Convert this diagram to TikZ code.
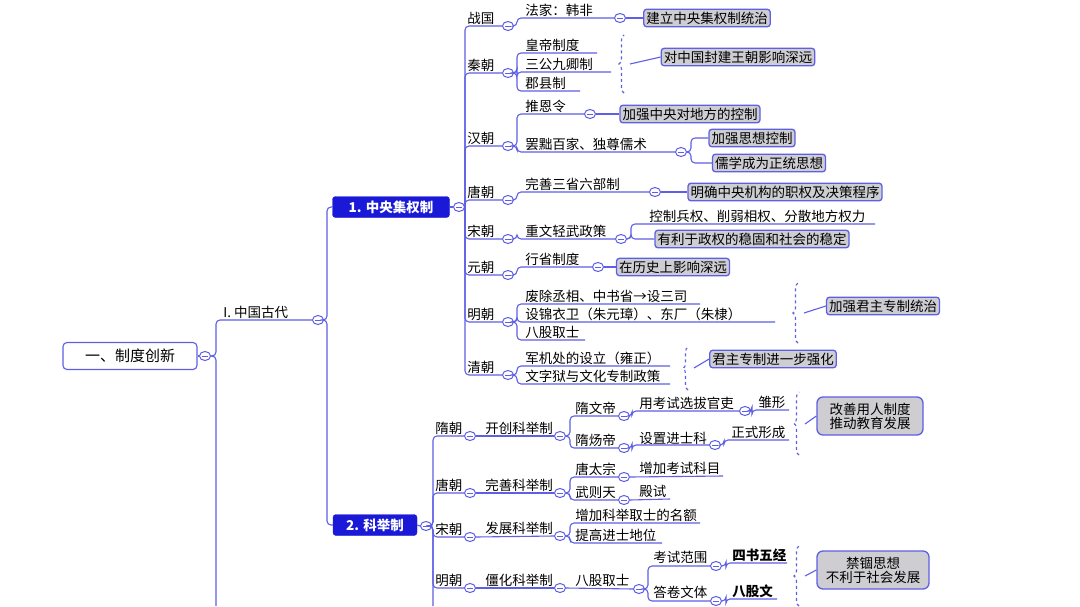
\documentclass[tikz,border=0pt]{standalone}
\usepackage{fontspec}
\setmainfont{Noto Sans CJK SC}
\usetikzlibrary{shapes.geometric,decorations.pathreplacing}
\definecolor{lnc}{RGB}{95,95,230}
\definecolor{dkb}{RGB}{25,25,215}
\definecolor{gbox}{RGB}{205,205,210}
\tikzset{
  ln/.style={draw=lnc,line width=1.1pt,rounded corners=4pt},
  cc/.style={ellipse,draw=lnc,fill=white,line width=1pt,minimum width=11pt,minimum height=9pt,inner sep=0pt,
    path picture={\draw[lnc,line width=0.9pt] ([xshift=-2.8pt]path picture bounding box.center)--([xshift=2.8pt]path picture bounding box.center);}},
  lab/.style={anchor=south west,inner sep=1.2pt,font=\fontsize{13.5}{14}\selectfont},
  gb/.style={draw=lnc,fill=gbox,line width=1.3pt,rounded corners=3pt,inner sep=2.5pt,font=\fontsize{13.5}{14}\selectfont},
  bb/.style={draw=dkb,fill=dkb,text=white,rounded corners=3pt,inner sep=3pt,font=\bfseries\fontsize{13.5}{14}\selectfont,minimum height=21pt},
  brc/.style={draw=lnc,line width=1.1pt,dashed,decorate,decoration={brace,amplitude=5pt}}
}
\newcommand\ch[3]{\draw[ln] (#1.east) -- (#1.east -| #2,0) |- (#3);}
\newcommand\cc[2]{\node[cc] (#1) at (#2) {};}
\newcommand\lb[4]{\node[lab] (#1) at (#2,#3) {#4};}
\begin{document}
\begin{tikzpicture}[x=1pt,y=-1pt]
\useasboundingbox (0,0) rectangle (1080,606);
\fill[white] (0,0) rectangle (1080,606);
% root
\node[draw=lnc,line width=1.1pt,rounded corners=4pt,fill=white,minimum width=134pt,minimum height=27pt,font=\fontsize{15}{16}\selectfont] (root) at (130,356) {一、制度创新};
\cc{c0}{205,356}
\draw[ln] (root.east) -- (c0.west);
\coordinate (bot) at (216,606);
\cc{cI}{318,320}
\draw[ln] (c0.east) -- (216,356) -- (bot);
\ch{c0}{216}{cI.west}
\lb{tI}{222}{320}{I. 中国古代}
% level 2
\node[bb,minimum width=117pt] (b1) at (391,207) {1. 中央集权制};
\node[bb,minimum width=84pt] (b2) at (375,525) {2. 科举制};
\ch{cI}{327}{b1.west}
\ch{cI}{327}{b2.west}
\cc{c1}{459,207}
\cc{c2}{426,526}
\draw[ln] (b1.east) -- (c1.west);
\draw[ln] (b2.east) -- (c2.west);
% dynasties central
\foreach \n/\y/\t in {dZG/26/战国,dQC/73/秦朝,dHC/146/汉朝,dTC/200/唐朝,dSC/239/宋朝,dYC/275/元朝,dMC/322/明朝,dQG/375/清朝}{
  \cc{\n}{508,\y}
  \ch{c1}{465}{\n.west}
  \node[lab] at (466,\y) {\t};
}
% ZG
\cc{cFJ}{620,18}
\ch{dZG}{517}{cFJ.west}
\lb{tFJ}{524}{18}{法家：韩非}
\node[gb] (bZG) at (707,18) {建立中央集权制统治};
\draw[ln] (cFJ.east) -- (bZG.west);
% QC
\coordinate (q1) at (597,53); \coordinate (q2) at (611,72); \coordinate (q3) at (580,91);
\ch{dQC}{517}{q1} \ch{dQC}{517}{q2} \ch{dQC}{517}{q3}
\lb{tq1}{524}{53}{皇帝制度} \lb{tq2}{524}{72}{三公九卿制} \lb{tq3}{524}{91}{郡县制}
\draw[brc] (624,93) -- (624,35);
\node[gb] (bQC) at (738,57) {对中国封建王朝影响深远};
\draw[ln] (630,64) -- (bQC.west);
% HC
\cc{cTE}{590,114}
\ch{dHC}{517}{cTE.west}
\lb{tTE}{524}{114}{推恩令}
\node[gb] (bTE) at (690,114) {加强中央对地方的控制};
\draw[ln] (cTE.east) -- (bTE.west);
\cc{cBC}{681,152}
\ch{dHC}{517}{cBC.west}
\lb{tBC}{524}{152}{罢黜百家、独尊儒术}
\node[gb] (bSX) at (752,138) {加强思想控制};
\node[gb] (bRX) at (769,163) {儒学成为正统思想};
\ch{cBC}{691}{bSX.west}
\ch{cBC}{691}{bRX.west}
% TC
\cc{cSS}{655,192}
\ch{dTC}{517}{cSS.west}
\lb{tSS}{524}{192}{完善三省六部制}
\node[gb] (bSS) at (785,192) {明确中央机构的职权及决策程序};
\draw[ln] (cSS.east) -- (bSS.west);
% SC
\cc{cZW}{621,239}
\ch{dSC}{517}{cZW.west}
\lb{tZW}{524}{239}{重文轻武政策}
\coordinate (kz) at (875,224);
\ch{cZW}{631}{kz}
\lb{tKZ}{648}{224}{控制兵权、削弱相权、分散地方权力}
\node[gb] (bZW) at (752,239) {有利于政权的稳固和社会的稳定};
\ch{cZW}{631}{bZW.west}
% YC
\cc{cXS}{598,267}
\ch{dYC}{517}{cXS.west}
\lb{tXS}{524}{267}{行省制度}
\node[gb] (bXS) at (673,267) {在历史上影响深远};
\draw[ln] (cXS.east) -- (bXS.west);
% MC
\coordinate (m1) at (700,304); \coordinate (m2) at (775,322); \coordinate (m3) at (585,340);
\ch{dMC}{517}{m1} \ch{dMC}{517}{m2} \ch{dMC}{517}{m3}
\lb{tm1}{524}{304}{废除丞相、中书省→设三司}
\lb{tm2}{524}{322}{设锦衣卫（朱元璋）、东厂（朱棣）}
\lb{tm3}{524}{340}{八股取士}
\draw[brc] (798,343) -- (798,283);
\node[gb] (bMC) at (883,306) {加强君主专制统治};
\draw[ln] (804,313) -- (bMC.west);
% QG
\coordinate (g1) at (670,366); \coordinate (g2) at (670,384);
\ch{dQG}{517}{g1} \ch{dQG}{517}{g2}
\lb{tg1}{524}{366}{军机处的设立（雍正）}
\lb{tg2}{524}{384}{文字狱与文化专制政策}
\draw[brc] (688,390) -- (688,347);
\node[gb] (bQG) at (773,359) {君主专制进一步强化};
\draw[ln] (694,368) -- (bQG.west);
% keju dynasties
\coordinate (kb) at (433,606);
\draw[ln] (c2.east) -- (433,526) -- (kb);
\foreach \n/\y/\t in {kSui/436/隋朝,kTang/493/唐朝,kSong/537/宋朝,kMing/588/明朝}{
  \cc{\n}{470,\y}
  \ch{c2}{433}{\n.west}
  \node[lab] at (434,\y) {\t};
}
\foreach \p/\n/\y/\t in {kSui/kA/436/开创科举制,kTang/kB/493/完善科举制,kSong/kC/536/发展科举制,kMing/kD/588/僵化科举制}{
  \cc{\n}{560,\y}
  \draw[ln] (\p.east) -- (\n.west);
  \node[lab] at (484,\y) {\t};
}
% Sui
\cc{kWD}{624,416} \cc{kYD}{624,448}
\ch{kA}{570}{kWD.west} \ch{kA}{570}{kYD.west}
\lb{tWD}{574}{416}{隋文帝} \lb{tYD}{574}{448}{隋炀帝}
\cc{kKS}{745,411}
\ch{kWD}{632}{kKS.west}
\lb{tKS}{638}{411}{用考试选拔官吏}
\coordinate (cx) at (789,410);
\ch{kKS}{752}{cx}
\lb{tCX}{757}{410}{雏形}
\cc{kJS}{715,445}
\ch{kYD}{632}{kJS.west}
\lb{tJS}{638}{446}{设置进士科}
\coordinate (zs) at (789,440);
\ch{kJS}{724}{zs}
\lb{tZS}{730}{440}{正式形成}
\draw[brc] (799,455) -- (799,392);
\node[gb,align=center,minimum width=106pt,minimum height=38pt,rounded corners=6pt] (bSui) at (870,416) {改善用人制度\\推动教育发展};
\draw[ln] (805,424) -- (bSui.west);
% Tang
\cc{kTZ}{624,477} \cc{kWZ}{624,500}
\ch{kB}{570}{kTZ.west} \ch{kB}{570}{kWZ.west}
\lb{tTZ}{574}{477}{唐太宗} \lb{tWZ}{574}{500}{武则天}
\coordinate (tz) at (723,476); \coordinate (wz) at (670,499);
\draw[ln] (kTZ.east) -- (tz); \draw[ln] (kWZ.east) -- (wz);
\lb{tTZ2}{638}{476}{增加考试科目} \lb{tWZ2}{638}{499}{殿试}
% Song
\coordinate (s1) at (700,523); \coordinate (s2) at (662,543);
\ch{kC}{570}{s1} \ch{kC}{570}{s2}
\lb{ts1}{574}{523}{增加科举取士的名额} \lb{ts2}{574}{543}{提高进士地位}
% Ming
\cc{kBG}{639,589}
\draw[ln] (kD.east) -- (kBG.west);
\lb{tBG}{574}{588}{八股取士}
\cc{kKW}{716,566} \cc{kDW}{716,601}
\ch{kBG}{648}{kKW.west} \ch{kBG}{648}{kDW.west}
\lb{tKW}{652}{565}{考试范围} \lb{tDW}{652}{600}{答卷文体}
\coordinate (sw) at (787,563); \coordinate (bg) at (777,599);
\ch{kKW}{726}{sw} \ch{kDW}{726}{bg}
\node[lab,font=\bfseries\fontsize{13.5}{14}\selectfont] at (731,563) {四书五经};
\node[lab,font=\bfseries\fontsize{13.5}{14}\selectfont] at (731,599) {八股文};
\draw[brc] (799,606) -- (799,546);
\node[gb,align=center,minimum width=112pt,minimum height=38pt,rounded corners=6pt] (bMing) at (873,570) {禁锢思想\\不利于社会发展};
\draw[ln] (805,576) -- (bMing.west);
\end{tikzpicture}
\end{document}
